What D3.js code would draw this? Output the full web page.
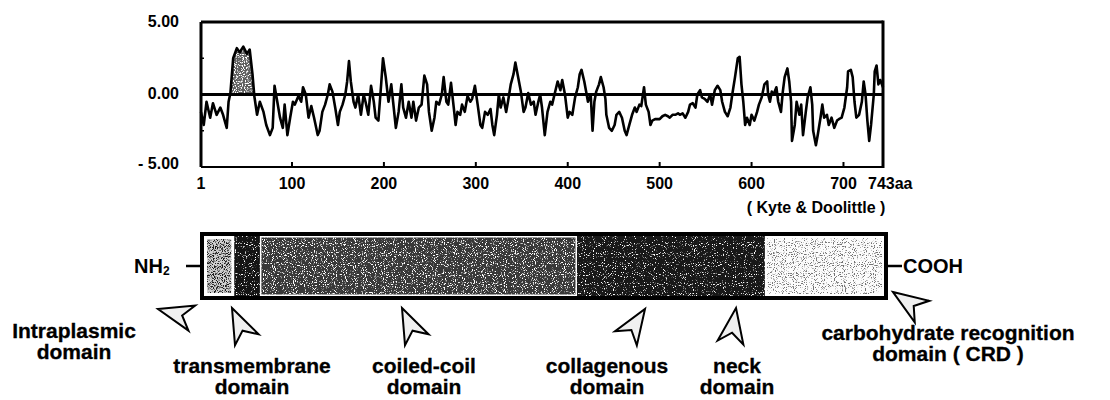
<!DOCTYPE html>
<html>
<head>
<meta charset="utf-8">
<script src="https://d3js.org/d3.v7.min.js"></script>
<style>
  body { margin: 0; background: #fff; }
  svg text { font-family: "Liberation Sans", Arial, Helvetica, sans-serif; font-weight: bold; fill: #000; }
</style>
</head>
<body>
<div id="chart"></div>
<script>
// Kyte & Doolittle hydropathy (residue -> value)
const residue = [
  1, 4, 7, 11, 14, 18, 22, 25, 29, 31, 33, 36, 40, 43, 47, 51, 54, 57, 59, 62,
  65, 69, 72, 76, 79, 81, 84, 87, 90, 92, 95, 98, 101, 103, 107, 110, 112, 115, 118, 121,
  124, 128, 130, 133, 136, 139, 141, 144, 147, 150, 152, 155, 158, 160, 162, 164, 167, 169, 172, 175,
  178, 180, 183, 186, 189, 191, 194, 197, 199, 202, 205, 208, 210, 213, 216, 219, 221, 224, 227, 230,
  232, 235, 238, 241, 244, 247, 249, 252, 255, 257, 260, 263, 265, 268, 270, 273, 276, 278, 280, 283,
  285, 288, 291, 294, 296, 299, 302, 305, 307, 310, 313, 316, 318, 320, 323, 325, 327, 330, 333, 335,
  338, 341, 343, 346, 349, 352, 354, 357, 360, 363, 365, 368, 370, 372, 375, 378, 381, 383, 386, 389,
  392, 394, 397, 400, 402, 405, 408, 411, 413, 415, 418, 420, 422, 425, 427, 429, 431, 434, 436, 439,
  441, 442, 445, 448, 451, 453, 456, 459, 462, 464, 467, 470, 473, 475, 478, 480, 483, 485, 488, 490,
  492, 495, 498, 500, 503, 506, 509, 511, 514, 517, 520, 522, 525, 528, 531, 533, 536, 539, 541, 544,
  546, 549, 552, 555, 557, 560, 563, 566, 568, 571, 574, 577, 579, 582, 585, 587, 589, 591, 593, 595,
  598, 600, 603, 606, 608, 611, 614, 617, 618, 620, 622, 624, 627, 629, 632, 634, 636, 639, 641, 643,
  644, 647, 649, 652, 654, 656, 659, 661, 664, 666, 667, 670, 672, 675, 677, 679, 682, 684, 687, 690,
  693, 695, 698, 701, 704, 705, 708, 710, 712, 714, 717, 720, 722, 724, 726, 728, 730, 733, 734, 736,
  738, 740, 743
];
const hydropathy = [
  -1.2, -2.1, -0.5, -1.6, -0.6, -1.4, -0.9, -1.4, -2.3, -0.5, 0.1, 2.5, 3.2, 2.9, 3.3, 2.8, 3.1, 1.4, -0.1, -1.4,
  -0.5, -1.2, -2.1, -2.8, -2.3, 0.6, -0.5, -1.6, -2.3, -0.7, -2.8, -1.6, -0.5, -0.7, -0.1, -0.5, 0.5, 0.0, -1.6, -0.8,
  -1.6, -2.8, -2.5, -1.2, -0.7, 0.0, 0.7, 0.2, -0.9, -2.1, -1.2, -0.7, 0.0, 0.9, 2.3, 0.9, -0.5, -0.9, 0.0, -1.4,
  0.0, -0.5, -1.4, 0.6, -0.5, -1.6, -1.8, 0.7, 2.5, 1.2, -0.5, 0.7, -0.5, -2.3, -1.2, 0.7, -0.9, -1.6, -0.5, -1.6,
  -0.5, -1.8, -0.9, -0.7, 1.3, 0.7, -1.2, -2.5, -1.6, -0.5, -0.7, 0.0, 1.2, -0.5, -0.7, 0.8, -0.9, -2.1, -1.2, -1.4,
  -0.7, -1.2, -0.1, -0.5, -0.3, 0.6, -0.7, -2.1, -2.3, -1.2, -1.4, -1.0, -2.1, -2.8, -1.4, 0.0, -0.9, -0.2, -1.2, -0.5,
  0.7, 1.4, 2.2, 1.2, 0.2, -1.2, -0.9, 0.1, -0.7, -0.5, -1.4, -0.5, 0.0, -0.9, -2.8, -1.2, -0.5, -0.7, 0.1, 0.9,
  0.3, 1.0, 0.0, -1.6, -1.2, -1.4, -0.2, 0.5, 1.4, 1.7, 0.9, 0.2, -0.5, 0.0, -2.5, -0.5, 0.2, 0.7, 1.2, 0.5,
  -0.3, -1.4, -2.3, -2.5, -2.1, -1.4, -1.2, -1.6, -2.5, -2.8, -2.1, -1.4, -0.9, -1.2, -0.7, -0.8, 0.5, -0.7, -1.2, -2.1,
  -1.8, -1.7, -1.7, -1.7, -1.5, -1.4, -1.5, -1.6, -1.4, -1.4, -1.3, -1.4, -1.3, -1.6, -1.2, -0.7, -0.6, -0.9, 0.0, 0.3,
  -0.2, -0.3, -0.5, 0.0, -0.7, 0.3, 0.6, 0.3, -0.5, -1.2, -1.5, -0.9, 0.0, 1.2, 2.5, 2.6, 0.7, -0.5, -2.1, -1.6,
  -2.1, -1.4, -1.8, -1.2, -0.7, -0.2, 0.7, 0.9, 0.0, -0.5, 0.2, 0.0, 0.5, -0.5, -1.2, 0.2, 1.2, 1.8, 0.9, -0.5,
  -3.2, -2.1, -0.5, -1.4, -0.7, -2.8, -1.2, -0.2, 0.5, -0.7, -2.5, -3.5, -2.8, -1.6, -0.7, -1.6, -1.4, -2.1, -1.6, -2.3,
  -1.8, -1.7, -1.6, -0.9, 0.5, 1.6, 1.7, 1.2, -0.5, -1.6, -1.4, -0.5, 0.9, 0.0, -1.8, -3.2, -2.1, 0.0, 1.6, 2.0,
  0.7, 1.0, 0.5
];
const yTicks = [5, 0, -5];
const yTickLabels = ['5.00', '0.00', '- 5.00'];
const xTicks = [1, 100, 200, 300, 400, 500, 600, 700];
const xLastLabel = '743aa';
const scaleNote = '( Kyte & Doolittle )';
const peakRange = [33, 59];   // shaded hydrophobic (transmembrane) peak

// protein domains, in residues
const domainNames = ['intraplasmic', 'transmembrane', 'coiled-coil', 'collagenous', 'neck', 'CRD'];
const domainStart = [1, 34, 62, 408, 540, 613];
const domainEnd = [34, 62, 408, 540, 613, 743];
const domainLabels = [
  ['Intraplasmic', 'domain'],
  ['transmembrane', 'domain'],
  ['coiled-coil', 'domain'],
  ['collagenous', 'domain'],
  ['neck', 'domain'],
  ['carbohydrate recognition', 'domain ( CRD )']
];

const width = 1110, height = 400;
const svg = d3.select('#chart').append('svg')
  .attr('width', width).attr('height', height);
svg.append('rect').attr('width', width).attr('height', height).attr('fill', '#fff');
const defs = svg.append('defs');

// grainy speckle, to look like the halftone of the scan
function speckle(id, c, gain, bias, seed) {
  const f = defs.append('filter').attr('id', id)
    .attr('x', 0).attr('y', 0).attr('width', 1).attr('height', 1)
    .attr('color-interpolation-filters', 'sRGB');
  f.append('feTurbulence').attr('type', 'fractalNoise')
    .attr('baseFrequency', 0.9).attr('numOctaves', 1).attr('seed', seed).attr('result', 'n');
  f.append('feColorMatrix').attr('in', 'n').attr('type', 'matrix')
    .attr('values', `0 0 0 0 ${c} 0 0 0 0 ${c} 0 0 0 0 ${c} ${gain} 0 0 0 ${bias}`)
    .attr('result', 'd');
  f.append('feComposite').attr('in', 'd').attr('in2', 'SourceGraphic').attr('operator', 'in');
}
speckle('whiteDense', 1, 9, -4.6, 3);
speckle('whiteMid', 1, 9, -5.0, 4);
speckle('whiteSparse', 1, 9, -5.4, 5);
speckle('darkDense', 0.1, 8, -3.9, 7);
speckle('greySparse', 0.45, 9, -5.0, 11);

// ---------- hydropathy plot ----------
const x = d3.scaleLinear().domain([1, 743]).range([201, 883]);
const y = d3.scaleLinear().domain([-5, 5]).range([167, 22]);
const pts = residue.map((r, i) => ({ r: r, v: hydropathy[i] }));

const peak = pts.filter(d => d.r >= peakRange[0] && d.r <= peakRange[1]);
const area = d3.area().x(d => x(d.r)).y0(y(0)).y1(d => y(Math.max(0, d.v)));
svg.append('path').datum(peak).attr('d', area).attr('fill', '#5e5e5e');
svg.append('path').datum(peak).attr('d', area).attr('fill', '#000').attr('filter', 'url(#whiteDense)');

svg.append('path').datum(pts)
  .attr('d', d3.line().x(d => x(d.r)).y(d => y(d.v)))
  .attr('fill', 'none').attr('stroke', '#000').attr('stroke-width', 2.6)
  .attr('stroke-linejoin', 'round');

// frame
svg.append('line').attr('x1', x(1)).attr('x2', x(743)).attr('y1', y(5)).attr('y2', y(5))
  .attr('stroke', '#000').attr('stroke-width', 3);
svg.append('line').attr('x1', x(1)).attr('x2', x(743)).attr('y1', y(-5)).attr('y2', y(-5))
  .attr('stroke', '#000').attr('stroke-width', 2);
svg.append('line').attr('x1', x(1)).attr('x2', x(1)).attr('y1', y(5)).attr('y2', y(-5))
  .attr('stroke', '#000').attr('stroke-width', 3);
svg.append('line').attr('x1', x(743)).attr('x2', x(743)).attr('y1', y(5) - 1.5).attr('y2', y(-5) + 1)
  .attr('stroke', '#000').attr('stroke-width', 3);
svg.append('line').attr('x1', x(1)).attr('x2', x(743)).attr('y1', y(0)).attr('y2', y(0))
  .attr('stroke', '#000').attr('stroke-width', 3);

// inner ticks
svg.selectAll('.xtick').data(xTicks.slice(1)).enter().append('line')
  .attr('x1', d => x(d)).attr('x2', d => x(d)).attr('y1', y(-5)).attr('y2', y(-5) - 5)
  .attr('stroke', '#000').attr('stroke-width', 2);
svg.selectAll('.ytick').data([2.5, -2.5]).enter().append('line')
  .attr('x1', x(1)).attr('x2', x(1) + 3).attr('y1', d => y(d)).attr('y2', d => y(d))
  .attr('stroke', '#000').attr('stroke-width', 1.5);

svg.selectAll('.ylab').data(yTicks).enter().append('text')
  .attr('x', 179).attr('y', (d, i) => y(d) + (i === 2 ? -4 : -1))
  .attr('dy', '0.35em').attr('text-anchor', 'end').attr('font-size', 16)
  .text((d, i) => yTickLabels[i]);

svg.selectAll('.xlab').data(xTicks).enter().append('text')
  .attr('x', d => x(d)).attr('y', 189).attr('text-anchor', 'middle').attr('font-size', 16)
  .text(d => d);
svg.append('text').attr('x', x(743) - 15).attr('y', 189).attr('font-size', 16).text(xLastLabel);
svg.append('text').attr('x', 816).attr('y', 213).attr('text-anchor', 'middle').attr('font-size', 16)
  .text(scaleNote);

// ---------- domain bar ----------
const xb = d3.scaleLinear().domain([1, 743]).range([204, 884]);
const barTop = 236, barBottom = 296;
const domainStyle = {
  'intraplasmic': { fill: '#d0d0d0', grain: 'darkDense', inset: 3 },
  'transmembrane': { fill: '#141414', grain: 'whiteSparse', inset: 0 },
  'coiled-coil': { fill: '#383838', grain: 'whiteMid', inset: 1.5 },
  'collagenous': { fill: '#181818', grain: 'whiteSparse', inset: 0 },
  'neck': { fill: '#181818', grain: 'whiteSparse', inset: 0 },
  'CRD': { fill: '#fcfcfc', grain: 'greySparse', inset: 2 }
};
const doms = domainNames.map((n, i) => ({ name: n, s: domainStart[i], e: domainEnd[i] }));

const seg = svg.selectAll('.seg').data(doms).enter().append('g');
seg.append('rect')
  .attr('x', d => xb(d.s) + domainStyle[d.name].inset)
  .attr('y', d => barTop + domainStyle[d.name].inset)
  .attr('width', d => xb(d.e) - xb(d.s) - 2 * domainStyle[d.name].inset)
  .attr('height', d => barBottom - barTop - 2 * domainStyle[d.name].inset)
  .attr('fill', d => domainStyle[d.name].fill);
seg.append('rect')
  .attr('x', d => xb(d.s) + domainStyle[d.name].inset)
  .attr('y', d => barTop + domainStyle[d.name].inset)
  .attr('width', d => xb(d.e) - xb(d.s) - 2 * domainStyle[d.name].inset)
  .attr('height', d => barBottom - barTop - 2 * domainStyle[d.name].inset)
  .attr('fill', '#000').attr('filter', d => `url(#${domainStyle[d.name].grain})`);

svg.append('rect').attr('x', 202).attr('y', 234).attr('width', 684).attr('height', 64)
  .attr('fill', 'none').attr('stroke', '#000').attr('stroke-width', 4);

// terminal labels
svg.append('line').attr('x1', 186).attr('x2', 200).attr('y1', 266).attr('y2', 266)
  .attr('stroke', '#000').attr('stroke-width', 2.5);
const nh = svg.append('text').attr('x', 134).attr('y', 273).attr('font-size', 20);
nh.append('tspan').text('NH');
nh.append('tspan').attr('font-size', 12).attr('dy', 2).text('2');
svg.append('line').attr('x1', 888).attr('x2', 902).attr('y1', 266).attr('y2', 266)
  .attr('stroke', '#000').attr('stroke-width', 2.5);
svg.append('text').attr('x', 903).attr('y', 273).attr('font-size', 20).text('COOH');

// ---------- callout arrows and domain labels ----------
const arrowLayout = [
  { tip: [158, 309], angle: -75, label: [74, 338] },
  { tip: [232, 308], angle: -25, label: [252, 373] },
  { tip: [402, 308], angle: -25, label: [424, 373] },
  { tip: [645, 309], angle: 33, label: [607, 373] },
  { tip: [736, 308], angle: 9, label: [737, 373] },
  { tip: [893, 292], angle: -56, label: [948, 340] }
];
const arrowPath = 'M0,0 L13,35 L0,25 L-13,35 Z';

svg.selectAll('.arrow').data(arrowLayout).enter().append('path')
  .attr('d', arrowPath)
  .attr('transform', d => `translate(${d.tip[0]},${d.tip[1]}) rotate(${d.angle})`)
  .attr('fill', '#f0f0f0').attr('stroke', '#000').attr('stroke-width', 2)
  .attr('stroke-linejoin', 'miter');

svg.selectAll('.dlabel').data(domainLabels).enter().append('text')
  .attr('x', (d, i) => arrowLayout[i].label[0])
  .attr('y', (d, i) => arrowLayout[i].label[1])
  .attr('text-anchor', 'middle').attr('font-size', 21)
  .attr('stroke', '#000').attr('stroke-width', 0.3)
  .selectAll('tspan').data(d => d).enter().append('tspan')
  .attr('x', function () { return d3.select(this.parentNode).attr('x'); })
  .attr('dy', (d, j) => j === 0 ? 0 : 21)
  .text(d => d);
</script>
</body>
</html>
